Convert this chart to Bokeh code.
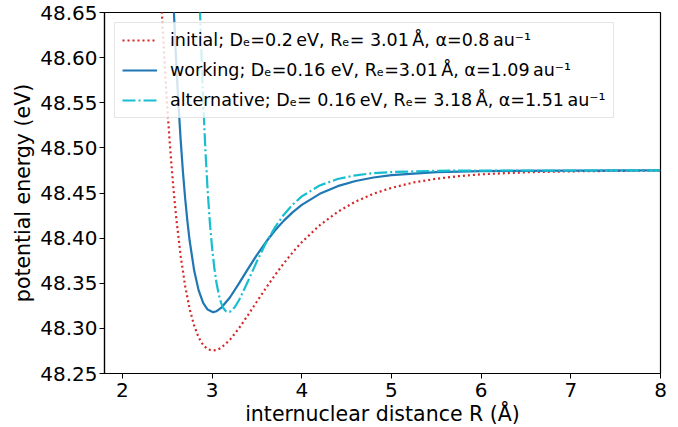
from bokeh.plotting import figure
from bokeh.models import FixedTicker, NumeralTickFormatter, Legend, LegendItem, Range1d
from bokeh.embed import file_html
from bokeh.resources import INLINE

# ---- data ----
r_initial = [2.40, 2.425, 2.45, 2.475, 2.50, 2.525, 2.55, 2.575, 2.60, 2.65, 2.70, 2.75, 2.80, 2.85,
             2.90, 2.95, 3.01, 3.05, 3.10, 3.20, 3.30, 3.40, 3.50, 3.60, 3.70, 3.80, 3.90, 4.00,
             4.20, 4.40, 4.60, 4.80, 5.00, 5.25, 5.50, 5.75, 6.00, 6.50, 7.00, 7.50, 8.00]
e_initial = [48.734, 48.6793, 48.630, 48.5852, 48.545, 48.5091, 48.477, 48.4481, 48.4225, 48.3797,
             48.3465, 48.3214, 48.3029, 48.2900, 48.2816, 48.2768, 48.2755, 48.2760, 48.2784,
             48.2875, 48.3002, 48.3147, 48.3298, 48.3447, 48.3589, 48.3722, 48.3844, 48.3955,
             48.4143, 48.4291, 48.4405, 48.4492, 48.4557, 48.4617, 48.4658, 48.4687, 48.4707,
             48.4730, 48.4740, 48.4745, 48.4748]

r_working = [2.55, 2.575, 2.60, 2.625, 2.65, 2.675, 2.70, 2.725, 2.75, 2.80, 2.85, 2.90, 2.95,
             3.01, 3.05, 3.10, 3.20, 3.30, 3.40, 3.50, 3.60, 3.70, 3.80, 3.90, 4.00, 4.20, 4.40,
             4.60, 4.80, 5.00, 5.50, 6.00, 7.00, 8.00]
e_working = [48.7095, 48.6480, 48.5943, 48.5479, 48.5077, 48.4730, 48.4434, 48.4182, 48.3968,
             48.3640, 48.3420, 48.3282, 48.3208, 48.3180, 48.3190, 48.3226, 48.3345, 48.3498,
             48.3659, 48.3814, 48.3957, 48.4084, 48.4194, 48.4288, 48.4368, 48.4491, 48.4576,
             48.4633, 48.4672, 48.4698, 48.4731, 48.4743, 48.4749, 48.4750]

r_alternative = [2.85, 2.875, 2.90, 2.925, 2.95, 2.975, 3.00, 3.025, 3.05, 3.075, 3.10, 3.125, 3.15,
                 3.18, 3.20, 3.25, 3.30, 3.40, 3.50, 3.60, 3.70, 3.80, 3.90, 4.00, 4.20, 4.40,
                 4.60, 4.80, 5.00, 5.50, 6.00, 8.00]
e_alternative = [48.7022, 48.6203, 48.5529, 48.4978, 48.4531, 48.4172, 48.3888, 48.3666, 48.3497,
                 48.3372, 48.3283, 48.3226, 48.3193, 48.3180, 48.3185, 48.3231, 48.3312, 48.3522,
                 48.3743, 48.3946, 48.4118, 48.4260, 48.4373, 48.4462, 48.4584, 48.4655, 48.4696,
                 48.4720, 48.4732, 48.4746, 48.4749, 48.4750]

labels = [
    "initial; D\u2091=0.2\u2009eV, R\u2091= 3.01\u2009\u00c5, \u03b1=0.8\u2009au\u207b\u00b9",
    "working; D\u2091=0.16 eV, R\u2091=3.01\u2009\u00c5, \u03b1=1.09\u2009au\u207b\u00b9",
    "alternative; D\u2091= 0.16\u2009eV, R\u2091= 3.18\u2009\u00c5, \u03b1=1.51\u2009au\u207b\u00b9",
]
x_ticks = [2, 3, 4, 5, 6, 7, 8]
y_ticks = [48.25, 48.30, 48.35, 48.40, 48.45, 48.50, 48.55, 48.60, 48.65]
x_label = "internuclear distance R (\u00c5)"
y_label = "potential energy (eV)"

FONT = "DejaVu Sans"

p = figure(width=678, height=427, frame_width=556, frame_height=361,
           min_border_left=104, min_border_right=18, min_border_top=12, min_border_bottom=54,
           x_range=Range1d(1.8, 8.0), y_range=Range1d(48.25, 48.65),
           output_backend="svg", toolbar_location=None)

p.background_fill_color = "white"
p.border_fill_color = "white"
p.outline_line_color = "black"
p.outline_line_width = 1.2
p.grid.visible = False

r1 = p.line(r_initial, e_initial, line_color="#d62728", line_width=2.2, line_dash="2 3")
r2 = p.line(r_working, e_working, line_color="#1f77b4", line_width=2.2)
r3 = p.line(r_alternative, e_alternative, line_color="#17becf", line_width=2.2, line_dash="13 3 2 3")

for ax in (p.xaxis[0], p.yaxis[0]):
    ax.axis_line_color = "black"
    ax.axis_line_width = 1.2
    ax.major_tick_line_color = "black"
    ax.major_tick_out = 5
    ax.major_tick_in = 0
    ax.minor_tick_line_color = None
    ax.major_label_text_font = FONT
    ax.major_label_text_font_size = "20px"
    ax.major_label_text_color = "black"
    ax.axis_label_text_font = FONT
    ax.axis_label_text_font_size = "20.5px"
    ax.axis_label_text_font_style = "normal"
    ax.axis_label_text_color = "black"

p.xaxis.ticker = FixedTicker(ticks=x_ticks)
p.yaxis.ticker = FixedTicker(ticks=y_ticks)
p.yaxis.formatter = NumeralTickFormatter(format="0.00")
p.xaxis.axis_label = x_label
p.yaxis.axis_label = y_label
p.xaxis.major_label_standoff = 4
p.yaxis.major_label_standoff = 2
p.xaxis.axis_label_standoff = 2
p.yaxis.axis_label_standoff = 2

legend = Legend(items=[LegendItem(label=labels[0], renderers=[r1]),
                       LegendItem(label=labels[1], renderers=[r2]),
                       LegendItem(label=labels[2], renderers=[r3])],
                location="top_left")
legend.margin = 10
legend.padding = 7
legend.spacing = 10
legend.glyph_width = 35
legend.glyph_height = 20
legend.label_standoff = 13
legend.label_text_font = FONT
legend.label_text_font_size = "17.5px"
legend.label_text_color = "black"
legend.border_line_color = "#cccccc"
legend.border_line_width = 1
legend.background_fill_color = "white"
legend.background_fill_alpha = 0.8
p.add_layout(legend)

open("out.html", "w").write(file_html(p, INLINE))
